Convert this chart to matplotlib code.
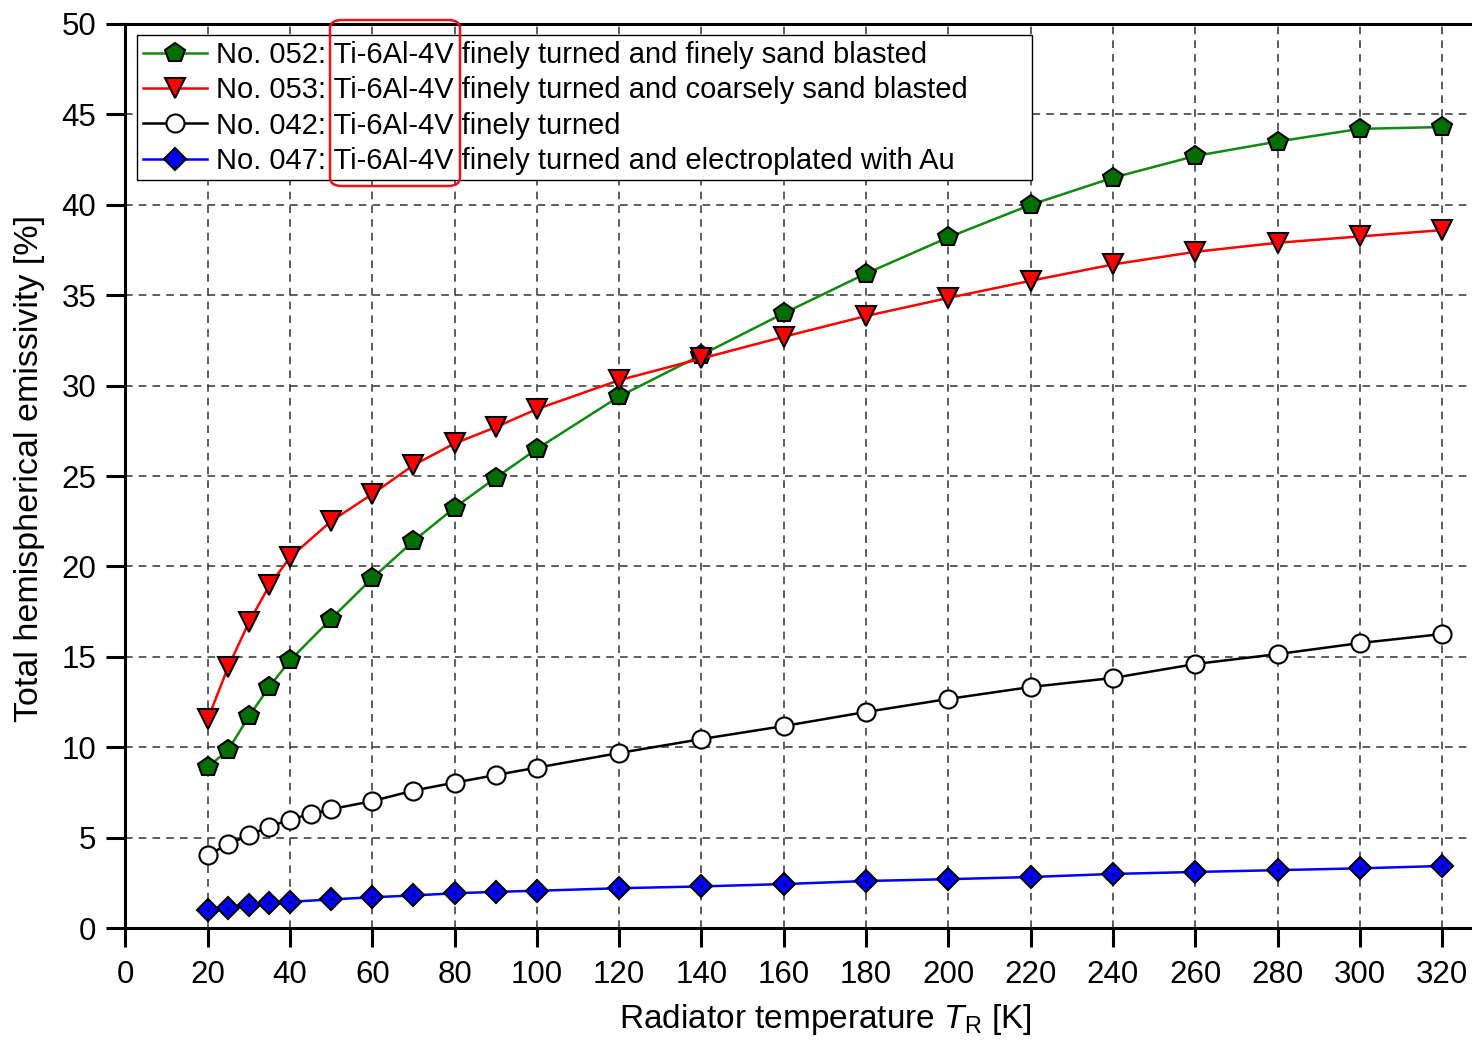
import matplotlib
matplotlib.use('Agg')
import matplotlib.pyplot as plt
from matplotlib.patches import FancyBboxPatch, Rectangle

plt.rcParams['font.family'] = ['Liberation Sans', 'DejaVu Sans']
plt.rcParams['mathtext.fontset'] = 'custom'
plt.rcParams['mathtext.it'] = 'Liberation Sans:italic'
plt.rcParams['mathtext.rm'] = 'Liberation Sans'

# data
t_052 = [20, 25, 30, 35, 40, 50, 60, 70, 80, 90, 100, 120, 140, 160, 180, 200, 220, 240, 260, 280, 300, 320]
e_052 = [8.9, 9.85, 11.7, 13.35, 14.8, 17.1, 19.35, 21.4, 23.25, 24.9, 26.5, 29.4, 31.7, 34.0, 36.2, 38.2, 40.0, 41.5, 42.7, 43.5, 44.2, 44.3]

t_053 = [20, 25, 30, 35, 40, 50, 60, 70, 80, 90, 100, 120, 140, 160, 180, 200, 220, 240, 260, 280, 300, 320]
e_053 = [11.55, 14.45, 16.9, 18.95, 20.5, 22.5, 24.0, 25.6, 26.8, 27.7, 28.7, 30.3, 31.5, 32.7, 33.85, 34.85, 35.8, 36.7, 37.4, 37.9, 38.25, 38.6]

t_042 = [20, 25, 30, 35, 40, 45, 50, 60, 70, 80, 90, 100, 120, 140, 160, 180, 200, 220, 240, 260, 280, 300, 320]
e_042 = [4.04, 4.63, 5.14, 5.6, 6.0, 6.3, 6.57, 7.02, 7.6, 8.04, 8.46, 8.87, 9.68, 10.45, 11.17, 11.95, 12.67, 13.33, 13.83, 14.6, 15.15, 15.76, 16.26]

t_047 = [20, 25, 30, 35, 40, 50, 60, 70, 80, 90, 100, 120, 140, 160, 180, 200, 220, 240, 260, 280, 300, 320]
e_047 = [1.0, 1.12, 1.27, 1.36, 1.45, 1.58, 1.7, 1.8, 1.92, 2.0, 2.06, 2.2, 2.3, 2.43, 2.6, 2.7, 2.82, 2.99, 3.1, 3.2, 3.3, 3.43]

labels = ['No. 052: Ti-6Al-4V finely turned and finely sand blasted',
          'No. 053: Ti-6Al-4V finely turned and coarsely sand blasted',
          'No. 042: Ti-6Al-4V finely turned',
          'No. 047: Ti-6Al-4V finely turned and electroplated with Au']

xticks = list(range(0, 321, 20))
yticks = list(range(0, 51, 5))

W, H = 1472, 1044
fig = plt.figure(figsize=(W / 100, H / 100), dpi=100)
# axes run on past the right edge of the picture (cropped like the original)
x0 = 125.4
ax = fig.add_axes([x0 / W, 116 / H, (340 * 4.115) / W, 904 / H])

ax.plot(t_052, e_052, color='#108a10', lw=1.8, marker='p', ms=15, mfc='#006e00', mec='black', mew=1.5, label=labels[0], zorder=4)
ax.plot(t_053, e_053, color='#ff0000', lw=1.8, marker='v', ms=15, mfc='#ff0000', mec='black', mew=1.5, label=labels[1], zorder=4)
ax.plot(t_042, e_042, color='black', lw=1.8, marker='o', ms=13, mfc='white', mec='black', mew=1.5, label=labels[2], zorder=4)
ax.plot(t_047, e_047, color='#0000ff', lw=1.8, marker='D', ms=11, mfc='#0000ff', mec='black', mew=1.5, label=labels[3], zorder=4)
ax.plot(t_047, e_047, ls='none', marker='.', ms=2, color='black', zorder=5)

ax.set_xlim(0, 340)
ax.set_ylim(0, 50)
ax.set_xticks(xticks)
ax.set_yticks(yticks)
ax.tick_params(direction='out', length=14, width=2.2, labelsize=22.5)
ax.tick_params(axis='x', pad=9)
ax.tick_params(axis='y', pad=7)
for s in ['left', 'bottom', 'top', 'right']:
    ax.spines[s].set_linewidth(2.2)
ax.grid(True, color='#333333', ls=(0, (5, 4)), lw=1.1)

ax.set_xlabel(r'Radiator temperature $T_\mathrm{R}$ [K]', fontsize=24, labelpad=9)
ax.set_ylabel('Total hemispherical emissivity [%]', fontsize=24.5, labelpad=9)
ax.yaxis.set_label_coords(-77 / 1345, (928 - 468) / 904)

leg = ax.legend(loc='upper left', bbox_to_anchor=(143 / W, 1 - 41 / H), bbox_transform=fig.transFigure,
                fontsize=21, frameon=False, handlelength=2.2, handletextpad=0.3,
                borderpad=0, labelspacing=0.25, borderaxespad=0)
leg.set_zorder(8)

# legend frame is wider than its text in the original
frame = Rectangle((137 / W, 1 - 180 / H), 895 / W, 145 / H, transform=fig.transFigure,
                  facecolor='white', edgecolor='black', lw=1.0, zorder=3)
ax.add_artist(frame)
frame.set_clip_on(False)

box = FancyBboxPatch((330 / W, 1 - 186 / H), 130 / W, 166 / H,
                     boxstyle='round,pad=0,rounding_size=0.008', transform=fig.transFigure,
                     fill=False, edgecolor='#e8141c', lw=1.8, zorder=10)
fig.patches.append(box)

fig.savefig('out.png', dpi=100)
